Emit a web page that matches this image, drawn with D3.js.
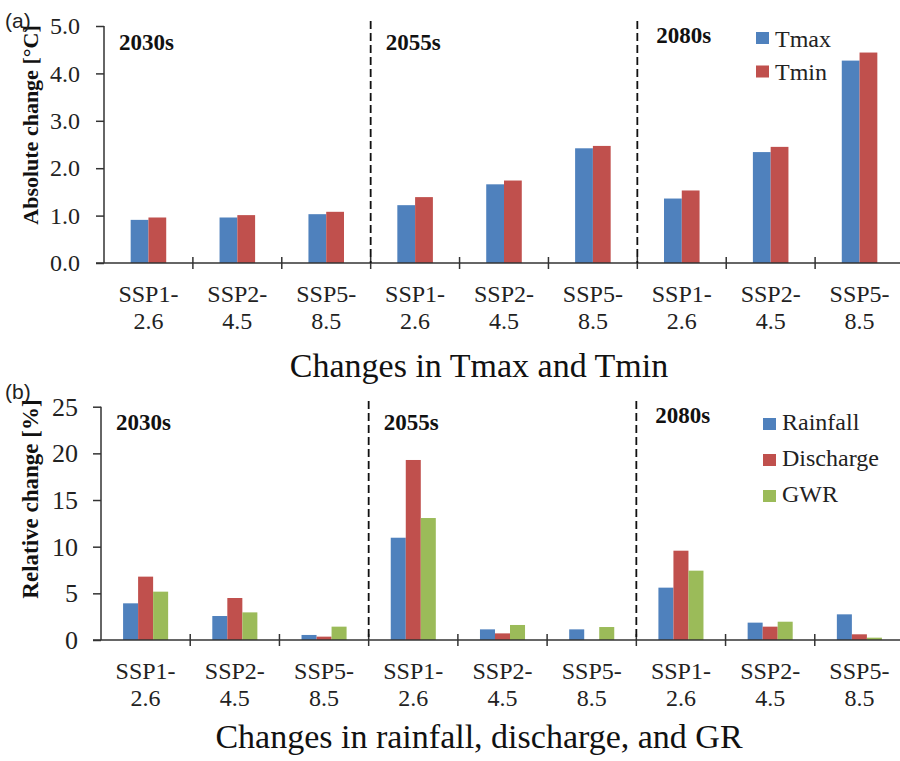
<!DOCTYPE html>
<html>
<head>
<meta charset="utf-8">
<script src="https://cdn.jsdelivr.net/npm/d3@7"></script>
<style>
  html, body { margin: 0; padding: 0; background: #fff; }
  svg { display: block; }
</style>
</head>
<body>
<script>
// two stacked grouped-bar panels: (a) temperature change, (b) relative change in water balance
var periods = ['2030s', '2055s', '2080s']
var scenarioTop = ['SSP1-', 'SSP2-', 'SSP5-']
var scenarioBottom = ['2.6', '4.5', '8.5']

var tmax = [0.91, 0.96, 1.03, 1.22, 1.66, 2.42, 1.36, 2.34, 4.27]
var tmin = [0.96, 1.01, 1.08, 1.39, 1.74, 2.47, 1.53, 2.45, 4.44]

var rainfall = [3.93, 2.57, 0.54, 10.96, 1.14, 1.14, 5.61, 1.86, 2.75]
var discharge = [6.79, 4.50, 0.36, 19.29, 0.71, 0.00, 9.57, 1.43, 0.61]
var gwr = [5.18, 2.96, 1.43, 13.07, 1.61, 1.39, 7.43, 1.96, 0.25]

var tempTicks = [0, 1, 2, 3, 4, 5]
var relTicks = [0, 5, 10, 15, 20, 25]

// 9 categories: every period x every scenario
var categories = []
periods.forEach(function(p){
  scenarioTop.forEach(function(s, i){
    categories.push({period: p, top: s, bottom: scenarioBottom[i]})
  })
})

var serif = "'Liberation Serif','Times New Roman',serif"
var sans = "'Liberation Sans',Arial,sans-serif"
var blue = '#4f81bd', red = '#c0504d', green = '#9bbb59'

var svg = d3.select('body').append('svg')
  .attr('width', 900).attr('height', 761)

function drawPanel(cfg){
  var g = svg.append('g')
  var idx = d3.range(categories.length)

  var x = d3.scaleBand().domain(idx).range([cfg.left, cfg.right]).padding(0)
  var y = d3.scaleLinear().domain([0, cfg.yMax]).range([cfg.bottom, cfg.top])
  var groupW = x.bandwidth() * cfg.groupFrac
  var sub = d3.scaleBand().domain(cfg.series.map(function(s){ return s.name }))
    .range([-groupW / 2, groupW / 2]).padding(0)

  // bars
  cfg.series.forEach(function(s){
    g.append('g').selectAll('rect').data(s.values).join('rect')
      .attr('x', function(d, i){ return x(i) + x.bandwidth() / 2 + sub(s.name) })
      .attr('width', sub.bandwidth())
      .attr('y', function(d){ return y(d) })
      .attr('height', function(d){ return y(0) - y(d) })
      .attr('fill', s.color)
  })

  // y axis
  var yAxis = d3.axisLeft(y).tickValues(cfg.ticks).tickSize(8).tickPadding(cfg.tickPad)
    .tickFormat(d3.format(cfg.fmt))
  var ya = g.append('g').attr('transform', 'translate(' + cfg.left + ',0)').call(yAxis)
    .attr('font-family', serif).attr('font-size', cfg.tickFont)
  ya.select('.domain').attr('stroke', '#333').attr('stroke-width', 1.5)
    .attr('d', 'M0,' + y(cfg.yMax) + 'V' + y(0))
  ya.selectAll('.tick line').attr('stroke', '#333').attr('stroke-width', 1.5)
  ya.selectAll('.tick text').attr('fill', '#222')

  // x axis: baseline with crossing ticks at category boundaries
  g.append('line')
    .attr('x1', cfg.left - 8).attr('x2', 900)
    .attr('y1', y(0)).attr('y2', y(0))
    .attr('stroke', '#333').attr('stroke-width', 1.5)
  g.append('g').selectAll('line').data(idx.slice(1)).join('line')
    .attr('x1', function(i){ return x(i) }).attr('x2', function(i){ return x(i) })
    .attr('y1', y(0) - 6).attr('y2', y(0) + 6)
    .attr('stroke', '#333').attr('stroke-width', 1.5)

  // category labels (two lines)
  var lab = g.append('g').selectAll('text').data(categories).join('text')
    .attr('font-family', serif).attr('font-size', 24).attr('fill', '#222')
    .attr('text-anchor', 'middle')
  lab.append('tspan')
    .attr('x', function(d, i){ return x(i) + x.bandwidth() / 2 })
    .attr('y', y(0) + 39)
    .text(function(d){ return d.top })
  lab.append('tspan')
    .attr('x', function(d, i){ return x(i) + x.bandwidth() / 2 })
    .attr('y', y(0) + 66)
    .text(function(d){ return d.bottom })

  // period separators
  g.append('g').selectAll('line').data([3, 6]).join('line')
    .attr('x1', function(i){ return x(i) }).attr('x2', function(i){ return x(i) })
    .attr('y1', cfg.dashTop).attr('y2', y(0))
    .attr('stroke', '#111').attr('stroke-width', 1.8).attr('stroke-dasharray', '8,4')

  // period labels
  g.append('g').selectAll('text').data(periods).join('text')
    .attr('x', function(d, k){ return x(k * 3) + cfg.periodDx[k] })
    .attr('y', function(d, k){ return cfg.periodY[k] })
    .attr('font-family', serif).attr('font-size', 23).attr('font-weight', 'bold')
    .attr('fill', '#111')
    .text(function(d){ return d })

  // legend
  var leg = g.append('g').selectAll('g').data(cfg.series).join('g')
  leg.append('rect')
    .attr('x', cfg.legendX).attr('y', function(d, k){ return cfg.legendBase[k] - cfg.legendSq })
    .attr('width', 13).attr('height', 12)
    .attr('fill', function(d){ return d.color })
  leg.append('text')
    .attr('x', cfg.legendX + 19).attr('y', function(d, k){ return cfg.legendBase[k] })
    .attr('font-family', serif).attr('font-size', 24).attr('fill', '#222')
    .text(function(d){ return d.name })

  // y title
  g.append('text')
    .attr('transform', 'translate(38,' + cfg.yTitleY + ') rotate(-90)')
    .attr('text-anchor', 'middle')
    .attr('font-family', serif).attr('font-size', cfg.yTitleFont).attr('font-weight', 'bold')
    .attr('fill', '#111')
    .text(cfg.yTitle)

  // panel tag
  g.append('text').attr('x', 5).attr('y', cfg.tagY)
    .attr('font-family', sans).attr('font-size', 21).attr('fill', '#222')
    .text(cfg.tag)

  // bottom title
  g.append('text').attr('x', 479).attr('y', cfg.titleY)
    .attr('text-anchor', 'middle')
    .attr('font-family', serif).attr('font-size', 34).attr('fill', '#111')
    .text(cfg.title)
}

drawPanel({
  tag: '(a)', tagY: 28,
  left: 104, right: 904, top: 26, bottom: 263, dashTop: 21,
  yMax: 5, ticks: tempTicks, fmt: '.1f', tickFont: 24, tickPad: 16,
  series: [{name: 'Tmax', values: tmax, color: blue}, {name: 'Tmin', values: tmin, color: red}],
  groupFrac: 0.4,
  periodDx: [15, 15, 19], periodY: [50, 50, 43],
  legendX: 756, legendBase: [46.5, 80], legendSq: 14.5,
  yTitle: 'Absolute change [°C]', yTitleY: 125, yTitleFont: 22,
  title: 'Changes in Tmax and Tmin', titleY: 377
})

drawPanel({
  tag: '(b)', tagY: 399,
  left: 101, right: 904, top: 406.7, bottom: 640, dashTop: 401,
  yMax: 25, ticks: relTicks, fmt: 'd', tickFont: 26, tickPad: 15,
  series: [
    {name: 'Rainfall', values: rainfall, color: blue},
    {name: 'Discharge', values: discharge, color: red},
    {name: 'GWR', values: gwr, color: green}
  ],
  groupFrac: 0.505,
  periodDx: [15, 15, 19], periodY: [430, 430, 423],
  legendX: 763, legendBase: [430, 466, 502], legendSq: 12,
  yTitle: 'Relative change [%]', yTitleY: 499, yTitleFont: 23,
  title: 'Changes in rainfall, discharge, and GR', titleY: 748
})
</script>
</body>
</html>
